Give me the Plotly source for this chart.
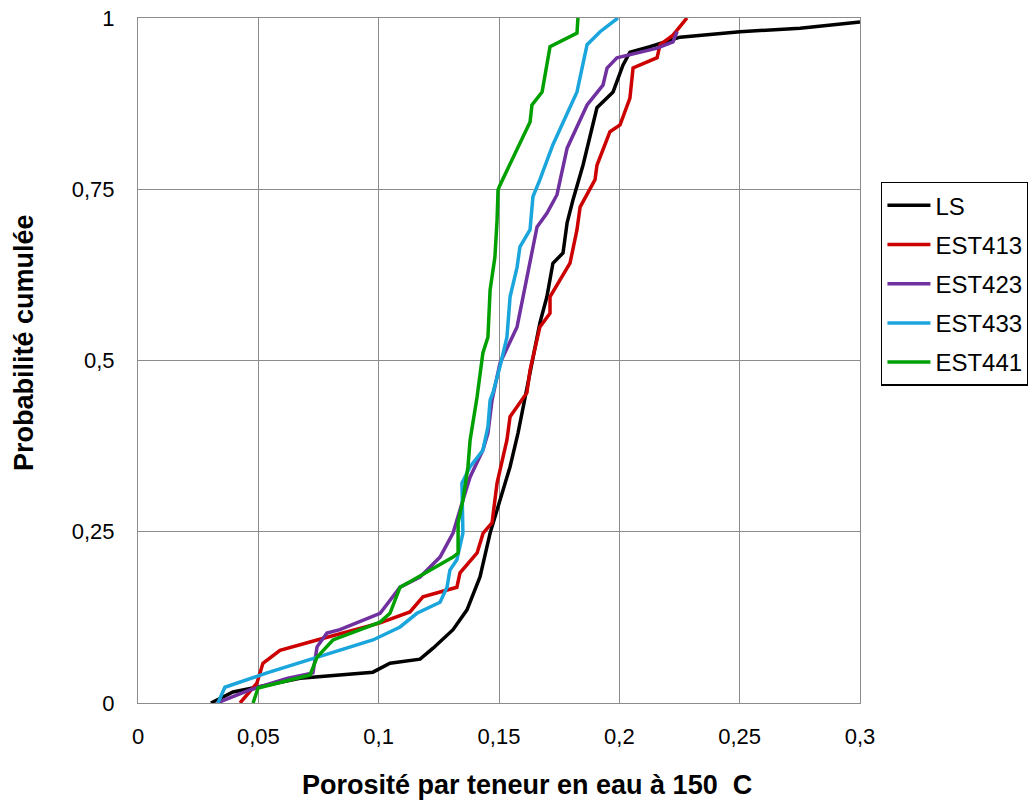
import plotly.graph_objects as go

names = ["LS", "EST413", "EST423", "EST433", "EST441"]
colors = ["#000000", "#cc0000", "#7030a0", "#1aa5dc", "#00a000"]

ls_x = [0.0303, 0.0395, 0.0673, 0.0976, 0.1047, 0.1172, 0.1226, 0.1309, 0.1367, 0.1421, 0.1463, 0.1504,
        0.1546, 0.1579, 0.1629, 0.1670, 0.1699, 0.1724, 0.1766, 0.1783, 0.1807, 0.1849, 0.1907, 0.1974,
        0.2015, 0.2044, 0.2127, 0.2252, 0.2501, 0.2751, 0.300]
ls_y = [0, 0.016, 0.036, 0.045, 0.058, 0.064, 0.080, 0.107, 0.136, 0.184, 0.248, 0.296,
        0.345, 0.394, 0.486, 0.555, 0.593, 0.642, 0.657, 0.701, 0.734, 0.785, 0.869, 0.892,
        0.931, 0.950, 0.958, 0.972, 0.980, 0.985, 0.994]

e413_x = [0.0424, 0.0494, 0.0519, 0.0590, 0.0744, 0.1006, 0.1130, 0.1184, 0.1255, 0.1325, 0.1338, 0.1409,
          0.1434, 0.1471, 0.1492, 0.1533, 0.1546, 0.1616, 0.1629, 0.1670, 0.1712, 0.1712, 0.1795, 0.1824,
          0.1837, 0.1899, 0.1907, 0.1961, 0.2003, 0.2044, 0.2057, 0.2157, 0.2169, 0.2223, 0.2281]
e413_y = [0, 0.029, 0.058, 0.077, 0.092, 0.117, 0.133, 0.155, 0.162, 0.169, 0.190, 0.219,
          0.248, 0.263, 0.321, 0.384, 0.418, 0.453, 0.486, 0.549, 0.569, 0.593, 0.642, 0.691,
          0.724, 0.764, 0.785, 0.834, 0.844, 0.883, 0.927, 0.942, 0.961, 0.975, 1.0]

e423_x = [0.0328, 0.0395, 0.0465, 0.0619, 0.0727, 0.0744, 0.0785, 0.0839, 0.1006, 0.1089, 0.1172, 0.1255,
          0.1309, 0.1350, 0.1380, 0.1433, 0.1454, 0.1471, 0.1504, 0.1575, 0.1600, 0.1629, 0.1658, 0.1699,
          0.1741, 0.1783, 0.1866, 0.1932, 0.1949, 0.1990, 0.2073, 0.2157, 0.2223, 0.2240]
e423_y = [0, 0.009, 0.019, 0.036, 0.044, 0.082, 0.102, 0.107, 0.131, 0.169, 0.184, 0.213,
          0.248, 0.296, 0.330, 0.369, 0.394, 0.442, 0.496, 0.549, 0.593, 0.642, 0.695, 0.715,
          0.742, 0.810, 0.873, 0.902, 0.927, 0.942, 0.949, 0.956, 0.965, 0.980]

e433_x = [0.0332, 0.0361, 0.0536, 0.0715, 0.0976, 0.1089, 0.1159, 0.1255, 0.1284, 0.1296, 0.1325, 0.1350,
          0.1346, 0.1380, 0.1433, 0.1454, 0.1463, 0.1475, 0.1504, 0.1533, 0.1546, 0.1575, 0.1587, 0.1629,
          0.1641, 0.1670, 0.1724, 0.1824, 0.1866, 0.1920, 0.1994]
e433_y = [0, 0.023, 0.044, 0.063, 0.092, 0.111, 0.131, 0.147, 0.169, 0.194, 0.209, 0.248,
          0.321, 0.345, 0.369, 0.403, 0.442, 0.453, 0.491, 0.534, 0.593, 0.636, 0.666, 0.691,
          0.739, 0.764, 0.815, 0.892, 0.961, 0.980, 1.0]

e441_x = [0.0478, 0.0499, 0.0715, 0.0744, 0.0810, 0.1006, 0.1047, 0.1089, 0.1130, 0.1309, 0.1330, 0.1330,
          0.1350, 0.1371, 0.1380, 0.1400, 0.1409, 0.1433, 0.1454, 0.1463, 0.1483, 0.1492, 0.1496, 0.1504,
          0.1558, 0.1629, 0.1637, 0.1679, 0.1712, 0.1824, 0.1828]
e441_y = [0, 0.022, 0.041, 0.067, 0.092, 0.118, 0.131, 0.169, 0.177, 0.213, 0.219, 0.263,
          0.296, 0.345, 0.384, 0.423, 0.447, 0.511, 0.534, 0.603, 0.651, 0.705, 0.749, 0.756,
          0.796, 0.848, 0.873, 0.892, 0.958, 0.978, 1.0]

x_ticks = [0, 0.05, 0.1, 0.15, 0.2, 0.25, 0.3]
x_ticktext = ["0", "0,05", "0,1", "0,15", "0,2", "0,25", "0,3"]
y_ticks = [0, 0.25, 0.5, 0.75, 1]
y_ticktext = ["0", "0,25", "0,5", "0,75", "1"]

x_title = "Porosité par teneur en eau à 150&nbsp; C"
y_title = "Probabilité cumulée"

series = [(ls_x, ls_y), (e413_x, e413_y), (e423_x, e423_y), (e433_x, e433_y), (e441_x, e441_y)]

fig = go.Figure()
for (xs, ys), name, col in zip(series, names, colors):
    fig.add_trace(go.Scatter(x=xs, y=ys, mode="lines", name=name, legendgroup=name,
                             line=dict(color=col, width=3.5), cliponaxis=False))

font_family = "Liberation Sans, Arial, sans-serif"
axis_common = dict(showgrid=True, gridcolor="#8c8c8c", gridwidth=1,
                   showline=True, linecolor="#8c8c8c", linewidth=1, mirror=True,
                   zeroline=False, ticks="", ticklen=0, ticklabeloverflow="allow",
                   automargin=False,
                   tickfont=dict(size=22, color="#000000"))
fig.update_layout(
    width=1036, height=803,
    margin=dict(l=130, r=184, t=10, b=108, autoexpand=False),
    paper_bgcolor="white", plot_bgcolor="white",
    font=dict(family=font_family, size=22, color="#000000"),
    showlegend=True,
    legend=dict(x=1.029, y=0.761, xanchor="left", yanchor="top",
                bordercolor="#000000", borderwidth=1.5, bgcolor="white",
                font=dict(size=24, family=font_family, color="#000000"),
                tracegroupgap=5, traceorder="grouped", itemwidth=43),
    xaxis=dict(range=[0, 0.3], tickvals=x_ticks, ticktext=x_ticktext,
               ticklabelstandoff=14, **axis_common),
    yaxis=dict(range=[0, 1], tickvals=y_ticks, ticktext=y_ticktext,
               ticklabelstandoff=18, **axis_common),
    annotations=[
        dict(text="<b>" + x_title + "</b>", xref="paper", yref="paper",
             x=0.539, y=-0.12, xanchor="center", yanchor="middle", showarrow=False,
             font=dict(size=27, family=font_family, color="#000000")),
        dict(text="<b>" + y_title + "</b>", xref="paper", yref="paper",
             x=-0.158, y=0.527, xanchor="center", yanchor="middle", showarrow=False,
             textangle=-90, font=dict(size=27, family=font_family, color="#000000")),
    ],
)

fig.write_html("out.html")
